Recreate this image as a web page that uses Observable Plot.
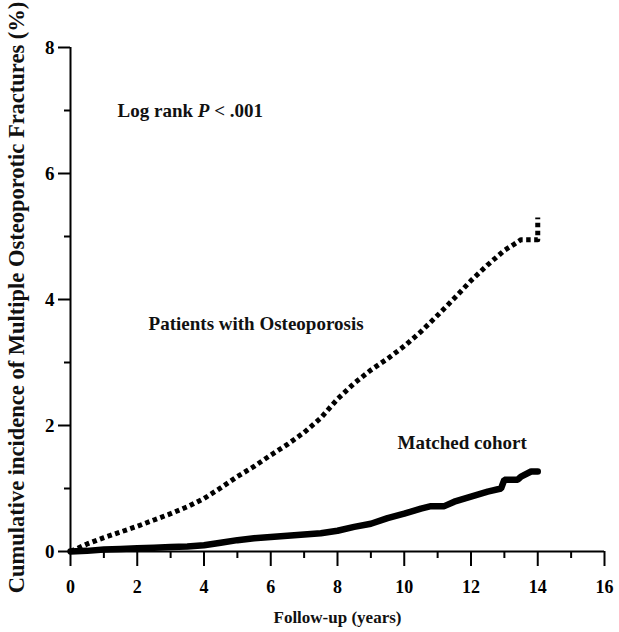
<!DOCTYPE html>
<html>
<head>
<meta charset="utf-8">
<script src="https://cdn.jsdelivr.net/npm/d3@7"></script>
<script src="https://cdn.jsdelivr.net/npm/@observablehq/plot@0.6"></script>
<style>
  html, body { margin: 0; padding: 0; background: #fff; }
  #chart svg { display: block; }
</style>
</head>
<body>
<div id="chart"></div>
<script>
// Patients with osteoporosis (dotted curve)
const ostYears  = [0, 0.5, 1, 1.5, 2, 2.5, 3, 3.5, 4, 4.5, 5, 5.5, 6, 6.5, 7, 7.5, 8, 8.5, 9, 9.5, 10, 10.5, 11, 11.5, 12, 12.5, 13, 13.3, 13.5, 14, 14];
const ostValues = [0, 0.12, 0.22, 0.31, 0.40, 0.50, 0.60, 0.71, 0.84, 1.01, 1.19, 1.35, 1.53, 1.70, 1.89, 2.12, 2.42, 2.67, 2.88, 3.06, 3.26, 3.49, 3.75, 4.02, 4.30, 4.55, 4.78, 4.88, 4.95, 4.95, 5.30];

// Matched cohort (solid curve)
const matYears  = [0, 0.5, 1, 1.5, 2, 2.5, 3, 3.5, 4, 4.5, 5, 5.5, 6, 6.5, 7, 7.5, 8, 8.5, 9, 9.5, 10, 10.5, 10.8, 11.2, 11.5, 12, 12.5, 12.9, 13.0, 13.4, 13.5, 13.8, 14.0];
const matValues = [0, 0.01, 0.03, 0.04, 0.05, 0.06, 0.07, 0.08, 0.10, 0.14, 0.18, 0.21, 0.23, 0.25, 0.27, 0.29, 0.33, 0.39, 0.44, 0.53, 0.60, 0.68, 0.72, 0.72, 0.79, 0.87, 0.95, 1.00, 1.14, 1.14, 1.19, 1.27, 1.27];

const xMajorTicks = [0, 2, 4, 6, 8, 10, 12, 14, 16];
const xMinorTicks = [1, 3, 5, 7, 9, 11, 13, 15];
const yMajorTicks = [0, 2, 4, 6, 8];
const yMinorTicks = [1, 3, 5, 7];

const yLabel = "Cumulative incidence of Multiple Osteoporotic Fractures (%)";
const xLabel = "Follow-up (years)";

const annotations = [
  {x: 1.41, y: 6.89, text: "Log rank P < .001"},
  {x: 2.34, y: 3.51, text: "Patients with Osteoporosis"},
  {x: 9.80, y: 1.63, text: "Matched cohort"}
];

const ost = ostYears.map((t, i) => ({t, v: ostValues[i]}));
const mat = matYears.map((t, i) => ({t, v: matValues[i]}));

const font = "'Liberation Serif', 'Times New Roman', serif";

const plot = Plot.plot({
  width: 619,
  height: 632,
  marginLeft: 70,
  marginRight: 15,
  marginTop: 47,
  marginBottom: 81,
  style: {fontFamily: font, background: "#fff", color: "#000"},
  x: {domain: [0, 16]},
  y: {domain: [0, 8]},
  marks: [
    Plot.axisX({ticks: xMajorTicks, tickSize: 15, tickPadding: 14, fontSize: 18, fontWeight: "bold", strokeWidth: 2, label: null}),
    Plot.axisX({ticks: xMinorTicks, tickSize: 7, tickFormat: () => "", strokeWidth: 2, label: null}),
    Plot.axisY({ticks: yMajorTicks, tickSize: 12, tickPadding: 4, fontSize: 19, fontWeight: "bold", strokeWidth: 2, label: null}),
    Plot.axisY({ticks: yMinorTicks, tickSize: 6, tickFormat: () => "", strokeWidth: 2, label: null}),
    Plot.ruleX([0], {strokeWidth: 2}),
    Plot.ruleY([0], {strokeWidth: 2}),
    Plot.line(mat, {x: "t", y: "v", curve: "linear", stroke: "#000", strokeWidth: 6.5, strokeLinejoin: "miter"}),
    Plot.line(ost, {x: "t", y: "v", curve: "linear", stroke: "#000", strokeWidth: 5, strokeDasharray: "4.5,3.5", strokeLinecap: "butt"}),
    Plot.text(annotations, {x: "x", y: "y", text: "text", textAnchor: "start", lineAnchor: "bottom", fontSize: 19, fontWeight: "bold", fill: "#111"}),
    Plot.text([yLabel], {frameAnchor: "left", textAnchor: "middle", rotate: -90, dx: -54, dy: -2, fontSize: 22.5, fontWeight: "bold", fill: "#111"}),
    Plot.text([xLabel], {frameAnchor: "bottom", lineAnchor: "bottom", dy: 71, fontSize: 17, fontWeight: "bold", fill: "#111"})
  ]
});

// italic P in the log-rank annotation
d3.select(plot).selectAll("text").filter(function() { return this.textContent === "Log rank P < .001"; })
  .each(function() {
    const t = d3.select(this);
    t.text(null);
    t.append("tspan").text("Log rank ");
    t.append("tspan").attr("font-style", "italic").text("P");
    t.append("tspan").text(" < .001");
  });

document.getElementById("chart").appendChild(plot);
</script>
</body>
</html>
